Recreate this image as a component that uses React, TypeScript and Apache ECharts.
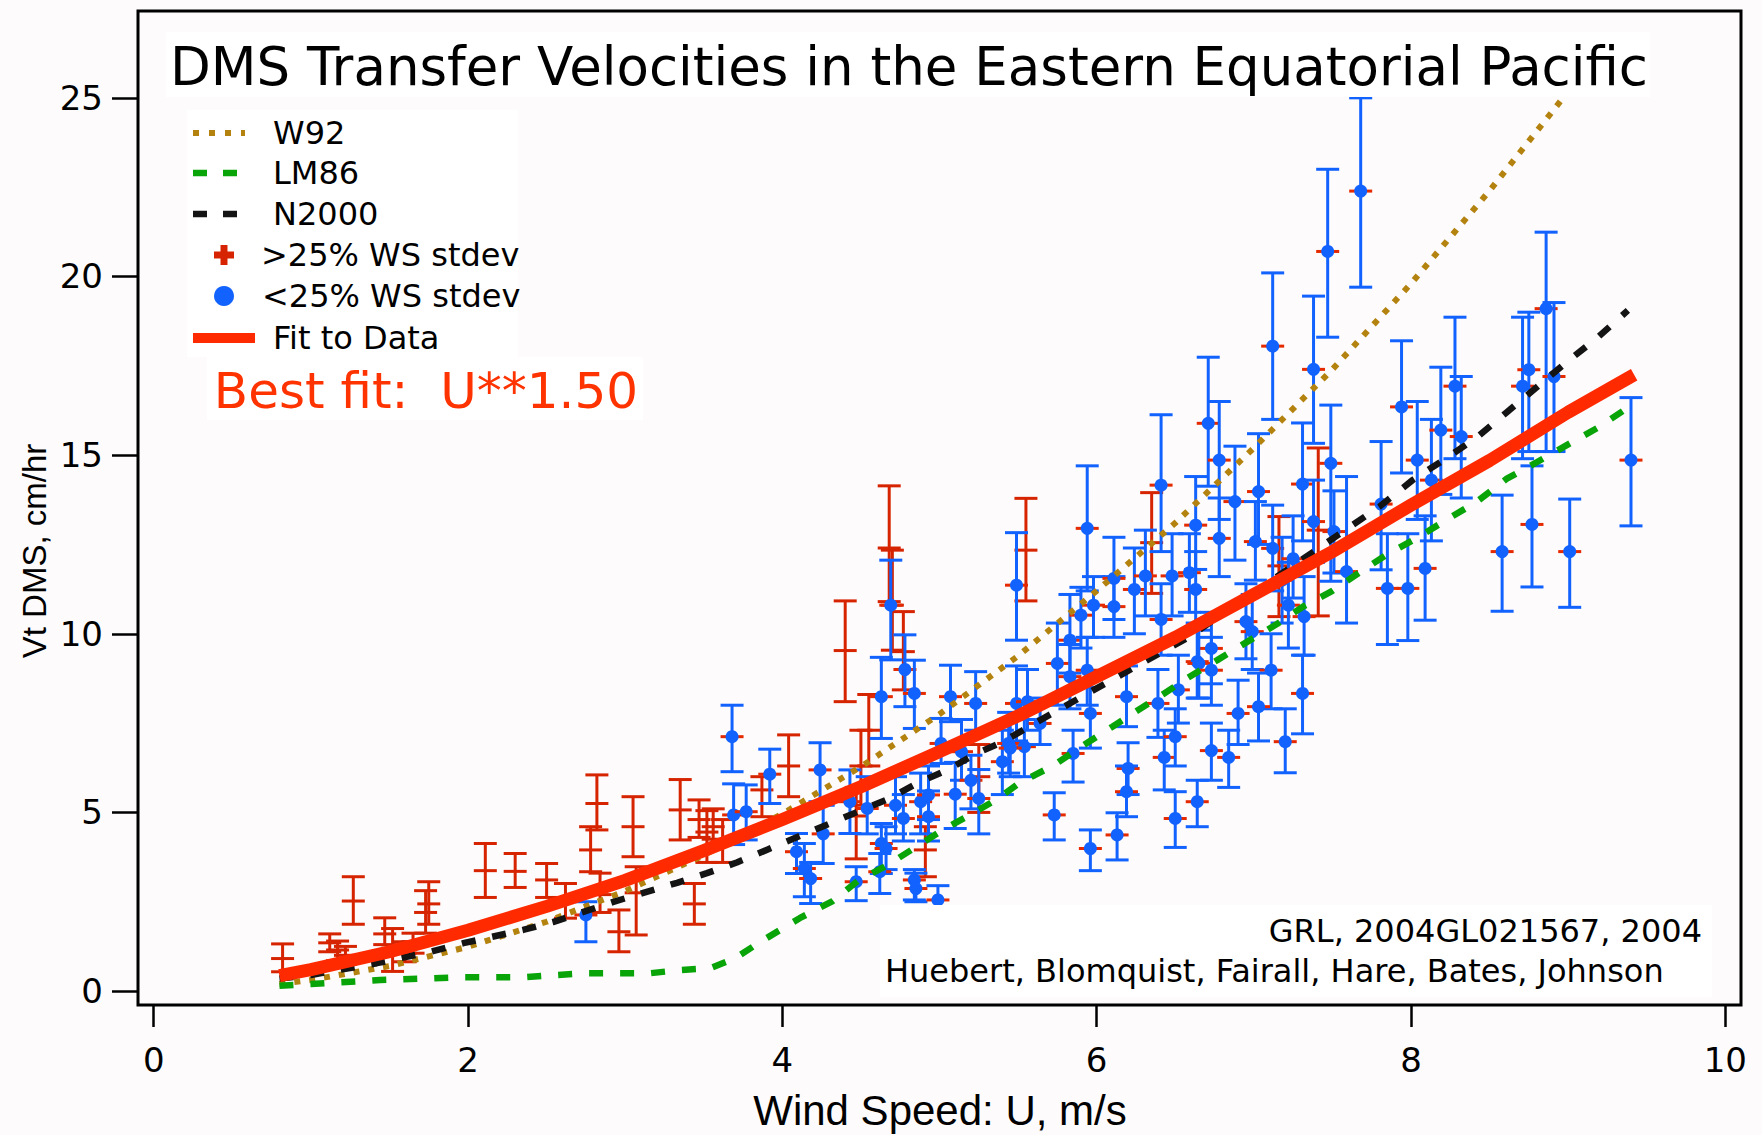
import { useEffect, useRef } from "react";
import * as echarts from "echarts";

const X_TICKS = [0, 2, 4, 6, 8, 10];
const Y_TICKS = [0, 5, 10, 15, 20, 25];

// W92 (dotted gold)
const w92U = [0.8, 1.0, 1.5, 2.0, 2.5, 3.0, 3.5, 4.0, 4.5, 5.0, 5.5, 6.0, 6.5, 7.0, 7.5, 8.0, 8.5, 8.95];
const w92V = [0.2, 0.31, 0.7, 1.24, 1.94, 2.8, 3.8, 4.96, 6.28, 7.75, 9.38, 11.2, 13.1, 15.2, 17.4, 19.8, 22.4, 24.9];

// LM86 (dashed green)
const lm86U = [0.8, 1.0, 1.44, 1.97, 2.37, 2.57, 2.76, 3.16, 3.35, 3.54, 3.7, 3.85, 4.11, 4.32, 4.48, 4.67, 4.86, 5.02, 5.17, 5.37, 5.51, 5.72, 5.91, 6.1, 6.24, 6.42, 6.58, 6.77, 6.96, 7.15, 7.31, 7.5, 7.68, 7.84, 8.03, 8.23, 8.42, 8.61, 8.8, 9.0, 9.19, 9.38];
const lm86V = [0.15, 0.2, 0.31, 0.39, 0.39, 0.45, 0.5, 0.5, 0.59, 0.64, 0.92, 1.35, 2.04, 2.52, 3.08, 3.53, 4.06, 4.51, 4.87, 5.38, 5.83, 6.3, 6.86, 7.4, 7.8, 8.3, 8.77, 9.27, 9.78, 10.28, 10.75, 11.2, 11.74, 12.2, 12.66, 13.2, 13.7, 14.34, 14.8, 15.3, 15.77, 16.33];

// N2000 (dashed black)
const n2000U = [0.8, 1.0, 1.42, 1.76, 1.97, 2.35, 2.54, 2.92, 3.11, 3.33, 3.52, 3.71, 3.9, 4.28, 4.67, 4.86, 5.05, 5.24, 5.4, 5.7, 6.04, 6.58, 7.8, 8.01, 8.22, 8.42, 8.61, 8.8, 8.99, 9.19, 9.38];
const n2000V = [0.35, 0.45, 0.78, 1.1, 1.34, 1.71, 1.93, 2.49, 2.74, 3.03, 3.3, 3.6, 3.95, 4.65, 5.37, 5.82, 6.19, 6.66, 6.97, 7.73, 8.57, 9.89, 13.56, 14.3, 14.9, 15.5, 16.2, 16.9, 17.6, 18.3, 19.05];

// Fit to data (thick red)
const fitU = [0.8, 1.0, 1.5, 2.0, 2.5, 3.0, 3.5, 4.0, 4.5, 5.0, 5.5, 6.0, 6.5, 7.0, 7.5, 8.0, 8.5, 9.0, 9.42];
const fitV = [0.43, 0.6, 1.1, 1.7, 2.37, 3.1, 3.93, 4.8, 5.72, 6.7, 7.7, 8.8, 9.9, 11.1, 12.3, 13.6, 14.85, 16.2, 17.25];

// [U, Vt, low, high]  >25% WS stdev
const redPoints: number[][] = [
  [0.82, 0.91, 0.54, 1.32], [1.12, 1.35, 1.1, 1.6], [1.17, 1.15, 0.85, 1.4], [1.22, 1.0, 0.75, 1.25],
  [1.27, 2.52, 1.87, 3.2], [1.47, 1.6, 1.3, 2.05], [1.52, 1.2, 0.55, 1.75], [1.75, 2.44, 1.87, 3.06],
  [1.73, 2.2, 1.62, 2.81], [1.65, 1.38, 1.06, 1.62], [1.6, 1.06, 0.82, 1.38], [2.11, 3.37, 2.62, 4.13],
  [2.3, 3.35, 2.9, 3.85], [2.5, 3.11, 2.62, 3.57], [2.62, 2.55, 2.04, 3.01], [2.82, 5.25, 4.51, 6.05],
  [2.78, 3.95, 3.34, 4.6], [2.84, 2.7, 2.2, 3.3], [2.96, 1.66, 1.1, 2.27], [3.05, 4.6, 3.76, 5.44],
  [3.07, 2.75, 1.57, 3.48], [3.35, 5.07, 4.23, 5.92], [3.44, 2.44, 1.87, 3.01], [3.47, 4.8, 4.3, 5.35],
  [3.52, 4.45, 3.6, 5.05], [3.56, 4.6, 4.25, 5.1], [3.62, 4.2, 3.6, 4.8], [3.87, 5.63, 4.88, 6.0],
  [4.04, 6.3, 5.44, 7.17], [4.4, 9.53, 8.1, 10.92], [4.5, 6.3, 5.2, 7.3], [4.55, 7.3, 6.3, 8.3],
  [4.47, 4.9, 3.7, 5.7], [4.68, 12.4, 10.9, 14.14], [4.7, 10.8, 9.54, 12.34], [4.77, 9.5, 8.43, 10.62],
  [4.91, 3.95, 3.2, 4.6], [5.25, 6.0, 5.0, 6.9], [5.55, 12.34, 10.92, 13.79], [6.35, 12.55, 11.13, 13.95],
  [7.16, 11.9, 10.48, 13.28], [7.41, 12.9, 10.5, 15.2],
];

// [U, Vt, low, high]  <25% WS stdev
const bluePoints: number[][] = [
  [2.75, 2.13, 1.38, 2.5], [3.68, 7.12, 6.14, 8.0], [3.69, 4.93, 4.1, 5.8], [3.77, 5.02, 4.23, 5.77],
  [3.92, 6.07, 5.25, 6.77], [4.09, 3.9, 3.29, 4.41], [4.14, 3.43, 2.64, 4.13], [4.18, 3.15, 2.45, 3.6],
  [4.24, 6.19, 5.3, 6.95], [4.26, 4.4, 3.57, 5.2], [4.43, 5.3, 4.41, 6.19], [4.54, 5.11, 4.4, 6.0],
  [4.47, 3.06, 2.53, 3.48], [4.63, 8.24, 7.07, 9.34], [4.69, 10.8, 9.27, 12.06], [4.63, 4.13, 3.29, 4.69],
  [4.66, 3.99, 3.4, 4.6], [4.62, 3.34, 2.73, 3.85], [4.72, 5.2, 4.4, 6.0], [4.77, 4.83, 4.2, 5.5],
  [4.78, 9.0, 7.96, 9.97], [4.84, 8.33, 7.35, 9.26], [4.88, 5.3, 4.4, 6.1], [4.93, 5.49, 4.8, 6.3],
  [4.93, 4.88, 4.2, 5.6], [4.84, 3.11, 2.55, 3.4], [4.85, 2.87, 2.5, 3.3], [4.99, 2.55, 2.3, 2.95],
  [5.01, 6.93, 6.37, 7.63], [5.07, 8.24, 7.54, 9.12], [5.1, 5.51, 4.55, 6.4], [5.14, 6.7, 5.9, 7.6],
  [5.2, 5.9, 5.1, 6.6], [5.23, 8.05, 7.3, 8.94], [5.25, 5.39, 4.4, 6.2], [5.4, 6.42, 5.5, 7.3],
  [5.49, 8.05, 7.0, 9.1], [5.49, 11.36, 9.82, 12.83], [5.44, 6.93, 6.1, 7.8], [5.54, 6.84, 6.0, 7.6],
  [5.56, 8.1, 7.3, 9.0], [5.64, 7.49, 6.9, 8.2], [5.75, 9.17, 8.0, 10.3], [5.83, 9.82, 8.9, 11.1],
  [5.83, 8.8, 7.9, 9.7], [5.85, 6.65, 5.85, 7.3], [5.73, 4.93, 4.23, 5.55], [5.9, 10.52, 9.6, 11.3],
  [5.94, 8.98, 8.0, 9.9], [5.96, 7.77, 6.8, 8.5], [5.98, 10.8, 9.9, 11.6], [5.96, 3.99, 3.37, 4.51],
  [6.11, 10.76, 9.9, 11.6], [6.11, 11.55, 10.4, 12.7], [6.13, 4.37, 3.67, 4.99], [6.19, 8.24, 7.4, 9.1],
  [6.2, 6.23, 5.5, 6.95], [6.19, 5.58, 4.88, 6.3], [6.24, 11.24, 10.0, 12.4], [6.31, 11.62, 10.5, 12.9],
  [6.41, 10.4, 9.4, 11.4], [6.39, 8.05, 7.1, 9.0], [6.43, 6.54, 5.63, 7.3], [6.5, 7.12, 6.3, 7.9],
  [6.5, 4.83, 4.02, 5.58], [6.52, 8.43, 7.5, 9.4], [6.59, 11.71, 10.6, 12.8], [6.64, 9.22, 8.2, 10.3],
  [6.64, 5.3, 4.6, 5.9], [5.94, 12.95, 11.2, 14.7], [6.41, 14.16, 12.3, 16.13], [6.48, 11.62, 10.5, 12.8],
  [6.63, 13.04, 11.8, 14.4], [6.63, 11.24, 10.2, 12.3], [6.71, 15.89, 14.13, 17.74], [6.78, 14.86, 13.2, 16.5],
  [6.78, 12.67, 11.6, 13.8], [6.88, 13.7, 12.06, 15.25], [7.01, 12.58, 11.5, 13.7], [7.03, 13.98, 12.5, 15.6],
  [7.12, 12.39, 11.2, 13.6], [7.12, 18.05, 16.0, 20.1], [7.31, 14.19, 12.6, 15.9], [7.38, 17.4, 15.33, 19.45],
  [7.38, 13.14, 12.0, 14.3], [7.49, 14.77, 11.47, 16.4], [7.51, 12.86, 11.7, 14.0], [7.59, 11.74, 10.3, 14.4],
  [7.81, 13.63, 11.79, 15.38], [7.85, 11.27, 9.7, 12.8], [7.94, 16.35, 14.5, 18.2], [7.98, 11.27, 9.81, 12.8],
  [8.04, 14.86, 13.2, 16.5], [8.09, 11.83, 10.38, 13.3], [8.13, 14.3, 12.6, 16.0], [8.19, 15.7, 13.9, 17.46],
  [6.73, 9.59, 8.6, 10.6], [6.65, 9.17, 8.2, 10.1], [6.73, 8.98, 8.0, 9.9], [6.95, 10.34, 9.3, 11.4],
  [6.99, 10.06, 9.0, 11.1], [7.11, 8.98, 7.9, 10.0], [7.31, 8.33, 7.2, 9.4], [7.32, 10.48, 9.4, 11.6],
  [7.03, 7.96, 7.0, 8.9], [6.9, 7.77, 6.9, 8.7], [7.2, 6.98, 6.11, 7.9], [6.84, 6.54, 5.7, 7.3],
  [6.73, 6.73, 5.9, 7.5], [5.45, 6.8, 6.0, 7.6], [7.47, 20.7, 18.3, 23.0], [7.68, 22.39, 19.7, 25.0],
  [7.18, 11.5, 10.3, 12.7], [7.22, 10.8, 9.6, 12.0], [7.25, 12.1, 11.0, 13.3], [8.28, 16.93, 14.9, 18.86],
  [8.32, 15.52, 13.8, 17.2], [8.58, 12.3, 10.63, 13.88], [8.71, 16.93, 14.9, 18.86], [8.75, 17.39, 15.1, 19.0],
  [8.77, 13.06, 11.31, 14.7], [8.86, 19.1, 15.1, 21.24], [8.91, 17.2, 15.1, 19.27], [9.01, 12.3, 10.74, 13.77],
  [9.4, 14.86, 13.02, 16.61],
];

const TITLE = "DMS Transfer Velocities in the Eastern Equatorial Pacific";
const X_NAME = "Wind Speed: U, m/s";
const Y_NAME = "Vt DMS, cm/hr";
const LEGEND_LABELS = ["W92", "LM86", "N2000", ">25% WS stdev", "<25% WS stdev", "Fit to Data"];
const BEST_FIT = "Best fit:  U**1.50";
const CITE1 = "GRL, 2004GL021567, 2004";
const CITE2 = "Huebert, Blomquist, Fairall, Hare, Bates, Johnson";

const BLUE = "#1262ff";
const RED_BAR = "#d62400";
const RED_DASH = "#e52a00";
const FIT = "#ff2a00";
const GOLD = "#b3820f";
const GREEN = "#08a408";
const BLACK = "#141414";
const BG = "#fdfbfc";

const pairs = (u: number[], v: number[]) => u.map((x, i) => [x, v[i]]);

function makeErrRenderer(blue: boolean) {
  return (_params: any, api: any) => {
    const u = api.value(0);
    const v = api.value(1);
    const lo = api.value(2);
    const hi = api.value(3);
    const c = api.coord([u, v]);
    const pl = api.coord([u, lo]);
    const ph = api.coord([u, hi]);
    const hw = 11.5;
    const bar = blue ? BLUE : RED_BAR;
    const kids: any[] = [
      { type: "line", shape: { x1: c[0] - hw, y1: c[1], x2: c[0] + hw, y2: c[1] }, style: { stroke: blue ? RED_DASH : RED_BAR, lineWidth: 3 } },
      { type: "line", shape: { x1: pl[0], y1: pl[1], x2: ph[0], y2: ph[1] }, style: { stroke: bar, lineWidth: 3 } },
      { type: "line", shape: { x1: pl[0] - hw, y1: pl[1], x2: pl[0] + hw, y2: pl[1] }, style: { stroke: bar, lineWidth: 3 } },
      { type: "line", shape: { x1: ph[0] - hw, y1: ph[1], x2: ph[0] + hw, y2: ph[1] }, style: { stroke: bar, lineWidth: 3 } },
    ];
    if (blue) kids.push({ type: "circle", shape: { cx: c[0], cy: c[1], r: 6.5 }, style: { fill: BLUE } });
    return { type: "group", children: kids };
  };
}

const txt = (x: number, y: number, text: string, font: string, fill = "#000", align = "left", extra: any = {}) => ({
  type: "text",
  x,
  y,
  z: 110,
  ...extra,
  style: { text, font, fill, align, verticalAlign: "middle" },
});

export default function App() {
  const ref = useRef<HTMLDivElement>(null);
  useEffect(() => {
    if (!ref.current) return;
    const chart = echarts.init(ref.current, undefined, { renderer: "svg" });
    const legendFont = '32px "DejaVu Sans"';
    const rows = [133, 173, 214, 255, 296, 338];
    const option: any = {
      animation: false,
      backgroundColor: BG,
      grid: { left: 138, right: 21, top: 11, bottom: 130, show: true, borderColor: "#000", borderWidth: 3, backgroundColor: "transparent" },
      xAxis: {
        type: "value",
        min: -0.1,
        max: 10.1,
        splitLine: { show: false },
        axisLine: { show: false, onZero: false },
        axisTick: { show: true, customValues: X_TICKS, length: 22, lineStyle: { color: "#000", width: 2.5 } },
        axisLabel: { customValues: X_TICKS, fontSize: 34, fontFamily: "DejaVu Sans", color: "#000", margin: 38 },
      },
      yAxis: {
        type: "value",
        min: -0.39,
        max: 27.43,
        splitLine: { show: false },
        axisLine: { show: false, onZero: false },
        axisTick: { show: true, customValues: Y_TICKS, length: 26, lineStyle: { color: "#000", width: 2.5 } },
        axisLabel: { customValues: Y_TICKS, fontSize: 34, fontFamily: "DejaVu Sans", color: "#000", margin: 35 },
      },
      series: [
        { type: "custom", name: ">25% WS stdev", renderItem: makeErrRenderer(false), data: redPoints, encode: { x: 0, y: 1 }, z: 2 },
        { type: "custom", name: "<25% WS stdev", renderItem: makeErrRenderer(true), data: bluePoints, encode: { x: 0, y: 1 }, z: 3 },
        { type: "line", name: "W92", data: pairs(w92U, w92V), showSymbol: false, z: 4, lineStyle: { color: GOLD, width: 6, type: [6, 9], cap: "butt" } },
        { type: "line", name: "LM86", data: pairs(lm86U, lm86V), showSymbol: false, z: 4, lineStyle: { color: GREEN, width: 6.5, type: [14, 17], cap: "butt" } },
        { type: "line", name: "N2000", data: pairs(n2000U, n2000V), showSymbol: false, z: 4, lineStyle: { color: BLACK, width: 6.5, type: [14, 17], cap: "butt" } },
        { type: "line", name: "Fit to Data", data: pairs(fitU, fitV), showSymbol: false, z: 5, lineStyle: { color: FIT, width: 13, cap: "butt", join: "round" } },
      ],
      graphic: [
        { type: "rect", z: 100, shape: { x: 166, y: 32, width: 1484, height: 65 }, style: { fill: "#ffffff" } },
        txt(909, 66, TITLE, '53px "DejaVu Sans"', "#000", "center"),
        { type: "rect", z: 100, shape: { x: 187, y: 110, width: 331, height: 247 }, style: { fill: "#ffffff" } },
        { type: "rect", z: 100, shape: { x: 207, y: 357, width: 436, height: 63 }, style: { fill: "#ffffff" } },
        { type: "line", z: 105, shape: { x1: 193, y1: rows[0], x2: 245, y2: rows[0] }, style: { stroke: GOLD, lineWidth: 6, lineDash: [6, 10] } },
        { type: "line", z: 105, shape: { x1: 193, y1: rows[1], x2: 238, y2: rows[1] }, style: { stroke: GREEN, lineWidth: 6.5, lineDash: [14, 16] } },
        { type: "line", z: 105, shape: { x1: 193, y1: rows[2], x2: 238, y2: rows[2] }, style: { stroke: BLACK, lineWidth: 6.5, lineDash: [14, 16] } },
        { type: "rect", z: 105, shape: { x: 214, y: rows[3] - 3.5, width: 20, height: 7 }, style: { fill: RED_BAR } },
        { type: "rect", z: 105, shape: { x: 220.5, y: rows[3] - 10, width: 7, height: 20 }, style: { fill: RED_BAR } },
        { type: "circle", z: 105, shape: { cx: 224, cy: rows[4], r: 10 }, style: { fill: BLUE } },
        { type: "line", z: 105, shape: { x1: 193, y1: rows[5], x2: 255, y2: rows[5] }, style: { stroke: FIT, lineWidth: 10 } },
        txt(273, rows[0], LEGEND_LABELS[0], legendFont),
        txt(273, rows[1], LEGEND_LABELS[1], legendFont),
        txt(273, rows[2], LEGEND_LABELS[2], legendFont),
        txt(261, rows[3], LEGEND_LABELS[3], legendFont),
        txt(262, rows[4], LEGEND_LABELS[4], legendFont),
        txt(273, rows[5], LEGEND_LABELS[5], legendFont),
        txt(426, 391, BEST_FIT, '50px "DejaVu Sans"', "#ff3300", "center"),
        { type: "rect", z: 100, shape: { x: 880, y: 905, width: 832, height: 92 }, style: { fill: "#ffffff" } },
        txt(1702, 931, CITE1, legendFont, "#000", "right"),
        txt(885, 971, CITE2, legendFont),
        txt(940, 1110, X_NAME, '42px "Liberation Sans"', "#000", "center"),
        txt(34, 551, Y_NAME, '33px "Liberation Sans Narrow", "Liberation Sans"', "#000", "center", { rotation: Math.PI / 2 }),
      ],
    };
    chart.setOption(option);
    return () => chart.dispose();
  }, []);
  return <div ref={ref} style={{ position: "fixed", left: 0, top: 0, width: 1762, height: 1135 }} />;
}
